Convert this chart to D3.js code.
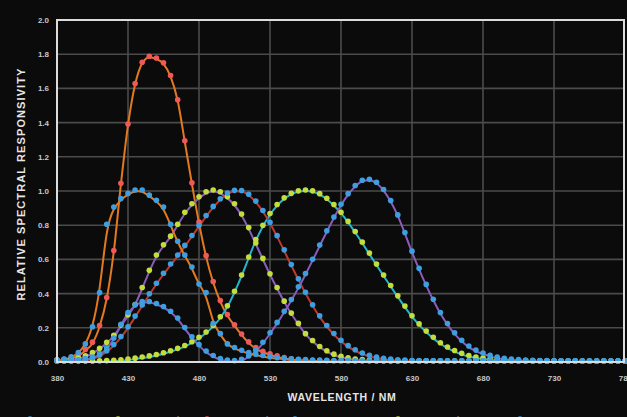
<!DOCTYPE html>
<html>
<head>
<meta charset="utf-8">
<script src="https://cdn.jsdelivr.net/npm/d3@7/dist/d3.min.js"></script>
<style>
  body { margin: 0; background: #0b0b0b; }
  svg { display: block; }
  text { font-family: "Liberation Sans", Arial, sans-serif; }
</style>
</head>
<body>
<svg id="chart" width="627" height="417"></svg>
<script>
// wavelength grid (nm), 5 nm steps
var wavelengths = d3.range(380, 781, 5);
var xTicks = [380, 430, 480, 530, 580, 630, 680, 730, 780];
var yTicks = [0, 0.2, 0.4, 0.6, 0.8, 1.0, 1.2, 1.4, 1.6, 1.8, 2.0];

// CIE 1931 x-bar
var cieX = [
  0.0014, 0.0022, 0.0042, 0.0077, 0.0143, 0.0232, 0.0435, 0.0776, 0.1344, 0.2148,
  0.2839, 0.3285, 0.3483, 0.3481, 0.3362, 0.3187, 0.2908, 0.2511, 0.1954, 0.1421,
  0.0956, 0.0580, 0.0320, 0.0147, 0.0049, 0.0024, 0.0093, 0.0291, 0.0633, 0.1096,
  0.1655, 0.2258, 0.2904, 0.3597, 0.4335, 0.5121, 0.5945, 0.6784, 0.7621, 0.8425,
  0.9163, 0.9786, 1.0263, 1.0567, 1.0622, 1.0456, 1.0026, 0.9384, 0.8545, 0.7514,
  0.6424, 0.5419, 0.4479, 0.3608, 0.2835, 0.2187, 0.1649, 0.1212, 0.0874, 0.0636,
  0.0468, 0.0329, 0.0227, 0.0158, 0.0114, 0.0081, 0.0058, 0.0041, 0.0029, 0.0020,
  0.0014, 0.0010, 0.0007, 0.0005, 0.0003, 0.0002, 0.0002, 0.0001, 0.0001, 0.0001,
  0.0000
];
// CIE 1931 y-bar
var cieY = [
  0.0000, 0.0001, 0.0001, 0.0002, 0.0004, 0.0006, 0.0012, 0.0022, 0.0040, 0.0073,
  0.0116, 0.0168, 0.0230, 0.0298, 0.0380, 0.0480, 0.0600, 0.0739, 0.0910, 0.1126,
  0.1390, 0.1693, 0.2080, 0.2586, 0.3230, 0.4073, 0.5030, 0.6082, 0.7100, 0.7932,
  0.8620, 0.9149, 0.9540, 0.9803, 0.9950, 1.0000, 0.9950, 0.9786, 0.9520, 0.9154,
  0.8700, 0.8163, 0.7570, 0.6949, 0.6310, 0.5668, 0.5030, 0.4412, 0.3810, 0.3210,
  0.2650, 0.2170, 0.1750, 0.1382, 0.1070, 0.0816, 0.0610, 0.0446, 0.0320, 0.0232,
  0.0170, 0.0119, 0.0082, 0.0057, 0.0041, 0.0029, 0.0021, 0.0015, 0.0010, 0.0007,
  0.0005, 0.0004, 0.0002, 0.0002, 0.0001, 0.0001, 0.0001, 0.0000, 0.0000, 0.0000,
  0.0000
];
// CIE 1931 z-bar
var cieZ = [
  0.0065, 0.0105, 0.0201, 0.0362, 0.0679, 0.1102, 0.2074, 0.3713, 0.6456, 1.0391,
  1.3856, 1.6230, 1.7471, 1.7826, 1.7721, 1.7441, 1.6692, 1.5281, 1.2876, 1.0419,
  0.8130, 0.6162, 0.4652, 0.3533, 0.2720, 0.2123, 0.1582, 0.1117, 0.0782, 0.0573,
  0.0422, 0.0298, 0.0203, 0.0134, 0.0087, 0.0057, 0.0039, 0.0027, 0.0021, 0.0018,
  0.0017, 0.0014, 0.0011, 0.0010, 0.0008, 0.0006, 0.0003, 0.0002, 0.0002, 0.0001,
  0, 0, 0, 0, 0, 0, 0, 0, 0, 0,
  0, 0, 0, 0, 0, 0, 0, 0, 0, 0,
  0, 0, 0, 0, 0, 0, 0, 0, 0, 0,
  0
];
// blue-light hazard B(lambda)
var blueHazard = [
  0.006, 0.012, 0.025, 0.050, 0.100, 0.200, 0.400, 0.800, 0.900, 0.950,
  0.980, 1.000, 1.000, 0.970, 0.940, 0.900, 0.800, 0.700, 0.620, 0.550,
  0.450, 0.400, 0.220, 0.160, 0.100, 0.079, 0.063, 0.050, 0.040, 0.032,
  0.025, 0.020, 0.016, 0.013, 0.010, 0.008, 0.006, 0.005, 0.004, 0.003,
  0.002, 0.002, 0.001, 0.001, 0.001, 0.001, 0.001, 0.001, 0.001, 0.001,
  0.001, 0.001, 0.001, 0.001, 0.001, 0.001, 0.001, 0.001, 0.001, 0.001,
  0.001, 0.001, 0.001, 0.001, 0.001, 0, 0, 0, 0, 0,
  0, 0, 0, 0, 0, 0, 0, 0, 0, 0,
  0
];
// melanopic-type response, peak near 490 nm
var melanopic = [
  0.005, 0.008, 0.012, 0.018, 0.030, 0.050, 0.075, 0.110, 0.150, 0.210,
  0.270, 0.330, 0.430, 0.530, 0.620, 0.680, 0.730, 0.800, 0.870, 0.920,
  0.960, 0.990, 1.000, 0.990, 0.960, 0.920, 0.860, 0.780, 0.690, 0.600,
  0.510, 0.430, 0.350, 0.280, 0.220, 0.160, 0.120, 0.085, 0.060, 0.040,
  0.027, 0.018, 0.012, 0.008, 0.005, 0.003, 0.002, 0.001, 0.001, 0,
  0, 0, 0, 0, 0, 0, 0, 0, 0, 0,
  0, 0, 0, 0, 0, 0, 0, 0, 0, 0,
  0, 0, 0, 0, 0, 0, 0, 0, 0, 0,
  0
];
// scotopic V'(lambda)
var scotopic = [
  0.0006, 0.0011, 0.0022, 0.0045, 0.0093, 0.0185, 0.0348, 0.0604, 0.0966, 0.1436,
  0.1998, 0.2625, 0.3281, 0.3931, 0.4550, 0.5130, 0.5670, 0.6200, 0.6760, 0.7340,
  0.7930, 0.8510, 0.9040, 0.9490, 0.9820, 0.9980, 0.9970, 0.9750, 0.9350, 0.8800,
  0.8110, 0.7330, 0.6500, 0.5640, 0.4810, 0.4020, 0.3288, 0.2639, 0.2076, 0.1602,
  0.1212, 0.0899, 0.0655, 0.0469, 0.0332, 0.0231, 0.0159, 0.0109, 0.0074, 0.0050,
  0.0033, 0.0022, 0.0015, 0.0010, 0.0007, 0.0005, 0.0003, 0.0002, 0.0001, 0.0001,
  0.0001, 0, 0, 0, 0, 0, 0, 0, 0, 0,
  0, 0, 0, 0, 0, 0, 0, 0, 0, 0,
  0
];

var seriesNames = ["CIE x\u0304", "CIE y\u0304", "CIE z\u0304", "B(\u03bb)", "Melanopic", "V'(\u03bb)"];
var fitNames = ["2\u00b0 fit", "2\u00b0 fit", "2\u00b0 fit", "Hazard fit", "Mel. fit", "Scot. fit"];

var dotBlue = "#3d9fe2", dotGreen = "#c3dd3c", dotRed = "#f0585a";
var series = [
  { values: cieZ, dot: dotRed, line: "#e3791f", curve: d3.curveMonotoneX },
  { values: cieY, dot: dotGreen, line: "#22b6cf", curve: d3.curveMonotoneX },
  { values: melanopic, dot: dotGreen, line: "#8a5cbc", curve: d3.curveBasis },
  { values: scotopic, dot: dotBlue, line: "#c0392b", curve: d3.curveMonotoneX },
  { values: cieX, dot: dotBlue, line: "#8a5cbc", curve: d3.curveMonotoneX },
  { values: blueHazard, dot: dotBlue, line: "#e3791f", curve: d3.curveBasis }
];
var legendOrder = [4, 1, 0, 5, 2, 3];

var svg = d3.select("#chart");
var W = 627, H = 417;
var margin = { left: 57, right: 2, top: 20, bottom: 55 };

svg.append("rect").attr("width", W).attr("height", H).attr("fill", "#0b0b0b");

var x = d3.scaleLinear().domain([380, 780]).range([margin.left, W - margin.right]);
var y = d3.scaleLinear().domain([0, 2]).range([H - margin.bottom, margin.top]);

// grid
var grid = svg.append("g");
grid.selectAll(".hg").data(yTicks.slice(1, -1)).enter().append("line")
  .attr("x1", x(380)).attr("x2", x(780))
  .attr("y1", function(d) { return y(d); }).attr("y2", function(d) { return y(d); })
  .attr("stroke", "#4b4b4b").attr("stroke-width", 1.6);
grid.selectAll(".vg").data(xTicks.slice(1, -1)).enter().append("line")
  .attr("y1", y(0)).attr("y2", y(2))
  .attr("x1", function(d) { return x(d); }).attr("x2", function(d) { return x(d); })
  .attr("stroke", "#4b4b4b").attr("stroke-width", 1.6);

// axes
var yAxis = svg.append("g").attr("transform", "translate(" + x(380) + ",0)")
  .call(d3.axisLeft(y).tickValues(yTicks).tickFormat(d3.format(".1f")).tickSize(0).tickPadding(8));
var xAxis = svg.append("g").attr("transform", "translate(0," + y(0) + ")")
  .call(d3.axisBottom(x).tickValues(xTicks).tickFormat(d3.format("d")).tickSize(0).tickPadding(13));
[yAxis, xAxis].forEach(function(a) {
  a.select(".domain").remove();
  a.selectAll("text").attr("fill", "#c9c9c9").style("font-size", "8px").style("font-weight", "bold");
});

// curves
var plot = svg.append("g");
series.forEach(function(s) {
  var line = d3.line()
    .x(function(d, i) { return x(wavelengths[i]); })
    .y(function(d) { return y(d); })
    .curve(s.curve);
  plot.append("path").datum(s.values)
    .attr("d", line)
    .attr("fill", "none")
    .attr("stroke", s.line)
    .attr("stroke-width", 2);
});
series.forEach(function(s) {
  plot.append("g").selectAll("circle").data(s.values).enter().append("circle")
    .attr("cx", function(d, i) { return x(wavelengths[i]); })
    .attr("cy", function(d) { return y(d) - 1; })
    .attr("r", 2.8)
    .attr("fill", s.dot);
});

// frame
svg.append("rect")
  .attr("x", x(380)).attr("y", y(2))
  .attr("width", x(780) - x(380) - 1).attr("height", y(0) - y(2))
  .attr("fill", "none").attr("stroke", "#dcdcdc").attr("stroke-width", 2);

// titles
svg.append("text")
  .attr("x", 342).attr("y", 401)
  .attr("text-anchor", "middle")
  .attr("fill", "#e6e6e6")
  .style("font-size", "10.5px").style("font-weight", "bold")
  .style("letter-spacing", "0.7px")
  .text("WAVELENGTH / NM");
svg.append("text")
  .attr("transform", "translate(25,184) rotate(-90)")
  .attr("text-anchor", "middle")
  .attr("fill", "#e6e6e6")
  .style("font-size", "11px").style("font-weight", "bold")
  .style("letter-spacing", "1.1px")
  .text("RELATIVE SPECTRAL RESPONSIVITY");

// legend (mostly clipped by the bottom edge, as in the source)
var legendX = [30, 118, 207, 295, 398, 520];
var legend = svg.append("g");
legendOrder.forEach(function(si, k) {
  var s = series[si], lx = legendX[k];
  var g = legend.append("g").attr("transform", "translate(" + lx + ",419)");
  g.append("circle").attr("r", 2.8).attr("fill", s.dot);
  g.append("text").attr("x", 7).attr("y", 3).attr("fill", "#bdbdbd")
    .style("font-size", "8px").text(seriesNames[si]);
  g.append("line").attr("x1", 36).attr("x2", 50).attr("y1", 0).attr("y2", 0)
    .attr("stroke", s.line).attr("stroke-width", 2.5);
  g.append("text").attr("x", 54).attr("y", 3).attr("fill", "#bdbdbd")
    .style("font-size", "8px").text(fitNames[si]);
});
</script>
</body>
</html>
